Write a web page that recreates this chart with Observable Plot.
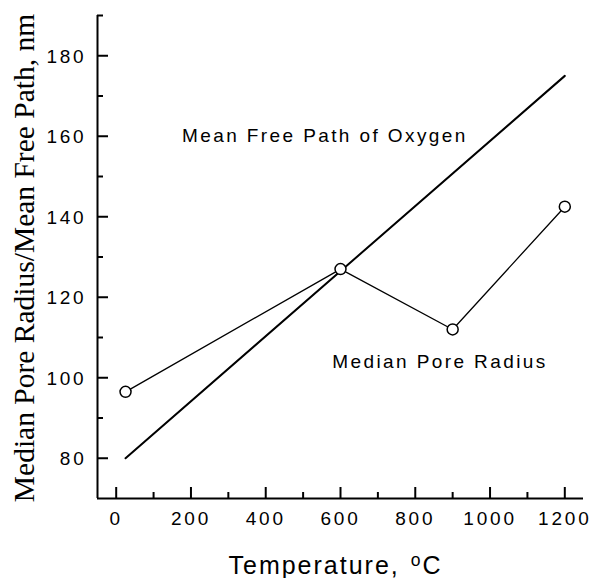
<!DOCTYPE html>
<html><head><meta charset="utf-8">
<script src="https://cdn.jsdelivr.net/npm/d3@7"></script>
<script src="https://cdn.jsdelivr.net/npm/@observablehq/plot@0.6"></script>
<style>body{margin:0;background:#fff}</style>
</head><body><div id="chart"></div>
<script>
const temps = [25, 600, 900, 1200];
const poreRadius = [96.5, 127, 112, 142.5];
const mfpTemps = [25, 1200];
const meanFreePath = [80, 175];
const xMajor = [0, 200, 400, 600, 800, 1000, 1200];
const xMinor = [100, 300, 500, 700, 900, 1100];
const yMajor = [80, 100, 120, 140, 160, 180];
const yMinor = [90, 110, 130, 150, 170, 190];
const xDomain = [-50, 1250];
const yDomain = [70, 190];
const yTitle = "Median Pore Radius/Mean Free Path, nm";
const xTitle = "Temperature, °C";
const annotations = [
  {x: 176, y: 160, text: "Mean Free Path of Oxygen"},
  {x: 578, y: 104, text: "Median Pore Radius"}
];

const pore = temps.map((t, i) => ({t, v: poreRadius[i]}));
const mfp = mfpTemps.map((t, i) => ({t, v: meanFreePath[i]}));

const sans = "'Liberation Sans', Arial, Helvetica, sans-serif";
const serif = "'Liberation Serif', 'Times New Roman', Times, serif";

const chart = Plot.plot({
  width: 591, height: 578,
  marginLeft: 97, marginRight: 8, marginTop: 15, marginBottom: 80,
  x: {domain: xDomain, axis: null},
  y: {domain: yDomain, axis: null},
  style: {fontFamily: sans, fontSize: "19px", color: "#000", background: "#fff", letterSpacing: "2.8px", overflow: "visible"},
  marks: [
    Plot.ruleY([yDomain[0]], {stroke: "#000", strokeWidth: 2}),
    Plot.ruleX([xDomain[0]], {stroke: "#000", strokeWidth: 2}),
    Plot.ruleX(xMajor, {x: d => d, y1: yDomain[0], y2: yDomain[0], insetTop: -11, stroke: "#000", strokeWidth: 2}),
    Plot.ruleX(xMinor, {x: d => d, y1: yDomain[0], y2: yDomain[0], insetTop: -6, stroke: "#000", strokeWidth: 2}),
    Plot.ruleY(yMajor, {y: d => d, x1: xDomain[0], x2: xDomain[0], insetRight: -11, stroke: "#000", strokeWidth: 2}),
    Plot.ruleY(yMinor, {y: d => d, x1: xDomain[0], x2: xDomain[0], insetRight: -6, stroke: "#000", strokeWidth: 2}),
    Plot.text(xMajor, {x: d => d, text: d => String(d), frameAnchor: "bottom", lineAnchor: "top", dy: 13, fill: "#000"}),
    Plot.text(yMajor, {y: d => d, text: d => String(d), frameAnchor: "left", textAnchor: "end", dx: -11, dy: 1, fill: "#000"}),
    Plot.line(mfp, {x: "t", y: "v", stroke: "#000", strokeWidth: 2}),
    Plot.line(pore, {x: "t", y: "v", stroke: "#000", strokeWidth: 1.3}),
    Plot.dot(pore, {x: "t", y: "v", r: 5.5, fill: "#fff", stroke: "#000", strokeWidth: 1.5}),
    Plot.text(annotations, {x: "x", y: "y", text: "text", textAnchor: "start", fontSize: 19, fill: "#000", ariaLabel: () => "annotation"}),
    Plot.text([yTitle], {text: d => d, frameAnchor: "left", textAnchor: "middle", rotate: -90, lineAnchor: "bottom", dx: -64, dy: 1, fontFamily: serif, fontSize: 29.5, fill: "#000", ariaLabel: () => "y-title"}),
    Plot.text([xTitle], {text: d => d, frameAnchor: "bottom", lineAnchor: "bottom", dy: 75, dx: -5, fontSize: 25, fill: "#000", ariaLabel: () => "x-title"})
  ]
});
document.getElementById("chart").appendChild(chart);

const svg = d3.select(chart);
const pick = (name) => svg.selectAll(`text[aria-label="${name}"], g[aria-label="${name}"] text`);
pick("y-title").style("letter-spacing", "0px");
pick("annotation").style("letter-spacing", "2.4px");
pick("x-title").each(function() {
  const t = d3.select(this);
  const full = t.text();
  const idx = full.indexOf("°");
  t.style("letter-spacing", "2px");
  if (idx < 0) return;
  t.text(null);
  t.append("tspan").text(full.slice(0, idx));
  t.append("tspan").attr("dy", "-0.45em").attr("font-size", "0.7em").attr("dx", "2").text("o");
  t.append("tspan").attr("dy", "0.315em").attr("font-size", "1em").text(full.slice(idx + 1));
});
</script>
</body></html>
